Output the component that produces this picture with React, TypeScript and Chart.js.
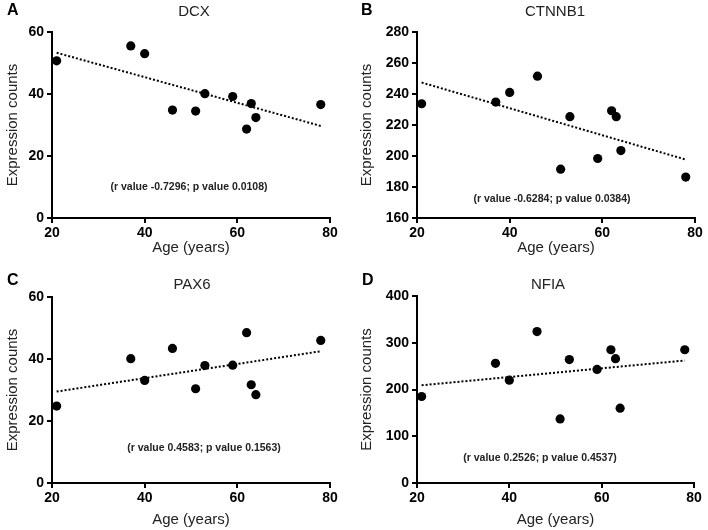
import React, { useEffect, useRef } from "react";
import { Chart, registerables } from "chart.js";

Chart.register(...registerables);

// ---- Data ----
const AGES = [21, 37, 40, 46, 51, 53, 59, 62, 63, 64, 78];

const DCX = [50.7, 55.5, 53.0, 34.8, 34.5, 40.1, 39.2, 28.7, 36.9, 32.4, 36.6];
const CTNNB1 = [233.7, 234.8, 241.0, 251.5, 191.5, 225.4, 198.4, 229.2, 225.4, 203.5, 186.4];
const PAX6 = [24.8, 40.1, 33.1, 43.4, 30.4, 37.9, 38.0, 48.5, 31.7, 28.5, 46.0];
const NFIA = [185, 256, 220, 324, 137, 264, 243, 285, 266, 160, 285];

const TREND_AGES = [21, 78];
const DCX_TREND = [53.3, 29.7];
const CTNNB1_TREND = [247.4, 197.7];
const PAX6_TREND = [29.5, 42.5];
const NFIA_TREND = [209, 262];

const X_TICKS = [20, 40, 60, 80];
const DCX_Y_TICKS = [0, 20, 40, 60];
const CTNNB1_Y_TICKS = [160, 180, 200, 220, 240, 260, 280];
const PAX6_Y_TICKS = [0, 20, 40, 60];
const NFIA_Y_TICKS = [0, 100, 200, 300, 400];

const X_LABEL = "Age (years)";
const Y_LABEL = "Expression counts";

const FONT = '"Liberation Sans", Arial, Helvetica, sans-serif';
const W = 354;
const H = 265;

type Panel = {
  letter: string;
  title: string;
  note: string;
  values: number[];
  trend: number[];
  yTicks: number[];
  pos: { x: number; y: number };
  area: { left: number; right: number; top: number; bottom: number };
  titleX: number;
  titleY: number;
  letterX: number;
  letterY: number;
  xTitleY: number;
  noteX: number;
  noteY: number;
};

const PANELS: Panel[] = [
  {
    letter: "A", title: "DCX", note: "(r value -0.7296; p value 0.0108)",
    values: DCX, trend: DCX_TREND, yTicks: DCX_Y_TICKS,
    pos: { x: 0, y: 0 },
    area: { left: 52, right: 330, top: 32, bottom: 218 },
    titleX: 194, titleY: 12, letterX: 7, letterY: 11, xTitleY: 248, noteX: 189, noteY: 187,
  },
  {
    letter: "B", title: "CTNNB1", note: "(r value -0.6284; p value 0.0384)",
    values: CTNNB1, trend: CTNNB1_TREND, yTicks: CTNNB1_Y_TICKS,
    pos: { x: 354, y: 0 },
    area: { left: 63, right: 341, top: 32, bottom: 218 },
    titleX: 201, titleY: 12, letterX: 7, letterY: 11, xTitleY: 248, noteX: 198, noteY: 199,
  },
  {
    letter: "C", title: "PAX6", note: "(r value 0.4583; p value 0.1563)",
    values: PAX6, trend: PAX6_TREND, yTicks: PAX6_Y_TICKS,
    pos: { x: 0, y: 265 },
    area: { left: 52, right: 330, top: 32, bottom: 218 },
    titleX: 192, titleY: 20, letterX: 7, letterY: 16, xTitleY: 255, noteX: 204, noteY: 183,
  },
  {
    letter: "D", title: "NFIA", note: "(r value 0.2526; p value 0.4537)",
    values: NFIA, trend: NFIA_TREND, yTicks: NFIA_Y_TICKS,
    pos: { x: 354, y: 265 },
    area: { left: 63, right: 340, top: 31, bottom: 218 },
    titleX: 194, titleY: 20, letterX: 8, letterY: 16, xTitleY: 255, noteX: 186, noteY: 193,
  },
];

const textPlugin = {
  id: "panelText",
  afterDraw(chart: any, _args: any, opts: any) {
    const ctx = chart.ctx;
    ctx.save();
    ctx.fillStyle = "#000";
    ctx.textBaseline = "middle";
    ctx.textAlign = "left";
    ctx.font = `bold 16px ${FONT}`;
    ctx.fillText(opts.letter, opts.letterX, opts.letterY);
    ctx.fillStyle = "#222";
    ctx.textAlign = "center";
    ctx.font = `15px ${FONT}`;
    ctx.fillText(opts.title, opts.titleX, opts.titleY);
    ctx.fillStyle = "#222";
    ctx.font = `bold 10.5px ${FONT}`;
    ctx.fillText(opts.note, opts.noteX, opts.noteY);
    ctx.restore();
  },
};

function PanelChart({ p }: { p: Panel }) {
  const ref = useRef<HTMLCanvasElement | null>(null);
  useEffect(() => {
    if (!ref.current) return;
    const points = AGES.map((a, i) => ({ x: a, y: p.values[i] }));
    const trend = TREND_AGES.map((a, i) => ({ x: a, y: p.trend[i] }));
    const yMin = p.yTicks[0];
    const yMax = p.yTicks[p.yTicks.length - 1];
    const chart = new Chart(ref.current, {
      type: "scatter",
      data: {
        datasets: [
          {
            data: trend,
            showLine: true,
            borderColor: "#000",
            borderWidth: 2,
            borderDash: [2, 2],
            pointRadius: 0,
            fill: false,
          } as any,
          {
            data: points,
            backgroundColor: "#000",
            borderColor: "#000",
            borderWidth: 0,
            pointRadius: 4.6,
          },
        ],
      },
      options: {
        animation: false,
        responsive: false,
        maintainAspectRatio: false,
        events: [],
        layout: {
          padding: { left: 0, right: W - p.area.right, top: p.area.top, bottom: 0 },
        },
        plugins: {
          legend: { display: false },
          tooltip: { enabled: false },
          panelText: {
            letter: p.letter, letterX: p.letterX, letterY: p.letterY,
            title: p.title, titleX: p.titleX, titleY: p.titleY,
            note: p.note, noteX: p.noteX, noteY: p.noteY,
          },
        } as any,
        scales: {
          x: {
            type: "linear",
            min: X_TICKS[0],
            max: X_TICKS[X_TICKS.length - 1],
            afterBuildTicks: (s: any) => {
              s.ticks = X_TICKS.map((v) => ({ value: v }));
            },
            afterFit: (s: any) => {
              s.height = H - p.area.bottom;
            },
            grid: {
              display: true,
              drawOnChartArea: false,
              drawTicks: true,
              tickLength: 5,
              color: "#000",
              lineWidth: 2,
            },
            border: { display: true, color: "#000", width: 2 },
            ticks: {
              color: "#000",
              padding: 2,
              font: { family: FONT, size: 14, weight: "bold" },
              maxRotation: 0,
            },
            title: {
              display: true,
              text: X_LABEL,
              color: "#222",
              font: { family: FONT, size: 15 },
              padding: { top: 0, bottom: H - p.xTitleY - 9 },
            },
          },
          y: {
            type: "linear",
            min: yMin,
            max: yMax,
            afterBuildTicks: (s: any) => {
              s.ticks = p.yTicks.map((v) => ({ value: v }));
            },
            afterFit: (s: any) => {
              s.width = p.area.left;
            },
            grid: {
              display: true,
              drawOnChartArea: false,
              drawTicks: true,
              tickLength: 5,
              color: "#000",
              lineWidth: 2,
            },
            border: { display: true, color: "#000", width: 2 },
            ticks: {
              color: "#000",
              padding: 3,
              font: { family: FONT, size: 14, weight: "bold" },
            },
            title: {
              display: true,
              text: Y_LABEL,
              color: "#222",
              font: { family: FONT, size: 15 },
              padding: { top: 4, bottom: 0 },
            },
          },
        },
      },
      plugins: [textPlugin as any],
    });
    return () => chart.destroy();
  }, [p]);
  return (
    <canvas
      ref={ref}
      width={W}
      height={H}
      style={{ position: "absolute", left: p.pos.x, top: p.pos.y, width: W, height: H, display: "block" }}
    />
  );
}

export default function App() {
  return (
    <div
      style={{
        position: "fixed",
        left: 0,
        top: 0,
        width: 708,
        height: 530,
        background: "#fff",
        overflow: "hidden",
      }}
    >
      {PANELS.map((p) => (
        <PanelChart key={p.letter} p={p} />
      ))}
    </div>
  );
}
